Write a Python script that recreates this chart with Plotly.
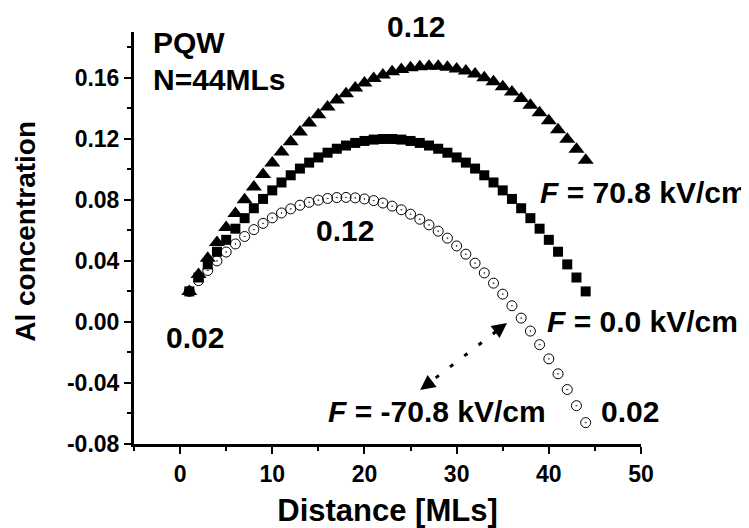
import plotly.graph_objects as go

distance = list(range(1, 45))

al_f0 = [0.0200, 0.0291, 0.0377, 0.0460, 0.0538, 0.0611, 0.0680, 0.0745, 0.0806, 0.0862,
         0.0914, 0.0961, 0.1005, 0.1044, 0.1078, 0.1109, 0.1135, 0.1156, 0.1173, 0.1186,
         0.1195, 0.1199, 0.1199, 0.1195, 0.1186, 0.1173, 0.1156, 0.1135, 0.1109, 0.1078,
         0.1044, 0.1005, 0.0961, 0.0914, 0.0862, 0.0806, 0.0745, 0.0680, 0.0611, 0.0538,
         0.0460, 0.0377, 0.0291, 0.0200]

al_fpos = [0.0200, 0.0311, 0.0417, 0.0520, 0.0618, 0.0711, 0.0800, 0.0885, 0.0966, 0.1042,
           0.1114, 0.1181, 0.1245, 0.1304, 0.1358, 0.1409, 0.1455, 0.1496, 0.1533, 0.1566,
           0.1595, 0.1619, 0.1639, 0.1655, 0.1666, 0.1673, 0.1676, 0.1675, 0.1669, 0.1658,
           0.1644, 0.1625, 0.1601, 0.1574, 0.1542, 0.1506, 0.1465, 0.1420, 0.1371, 0.1318,
           0.1260, 0.1197, 0.1131, 0.1060]

al_fneg = [0.0200, 0.0271, 0.0337, 0.0400, 0.0458, 0.0511, 0.0560, 0.0605, 0.0646, 0.0682,
           0.0714, 0.0741, 0.0765, 0.0784, 0.0798, 0.0809, 0.0815, 0.0816, 0.0813, 0.0806,
           0.0795, 0.0779, 0.0759, 0.0735, 0.0706, 0.0673, 0.0636, 0.0595, 0.0549, 0.0498,
           0.0444, 0.0385, 0.0321, 0.0254, 0.0182, 0.0106, 0.0025, -0.0060, -0.0149, -0.0242,
           -0.0340, -0.0443, -0.0549, -0.0660]

x_ticks = [0, 10, 20, 30, 40, 50]
y_ticks = [-0.08, -0.04, 0.00, 0.04, 0.08, 0.12, 0.16]
y_tick_labels = ["-0.08", "-0.04", "0.00", "0.04", "0.08", "0.12", "0.16"]

FONT = "Liberation Sans, Arial, sans-serif"

fig = go.Figure()
fig.add_trace(go.Scatter(x=distance, y=al_f0, mode="markers",
                         marker=dict(symbol="square", size=10, color="black"),
                         name="F = 0.0 kV/cm"))
fig.add_trace(go.Scatter(x=distance, y=al_fneg, mode="markers",
                         marker=dict(symbol="circle-open-dot", size=10, color="black",
                                     line=dict(width=1, color="black")),
                         name="F = -70.8 kV/cm"))
fig.add_trace(go.Scatter(x=distance, y=al_fpos, mode="markers",
                         marker=dict(symbol="triangle-up", size=14, color="black"),
                         name="F = 70.8 kV/cm"))

ann_font = dict(family=FONT, size=30, color="black", weight="bold")
label_font = dict(family=FONT, size=30, color="black", weight="bold")

anns = [
    dict(x=-3.16, y=0.1828, text="PQW", xanchor="left", font=ann_font),
    dict(x=-3.16, y=0.1590, text="N=44MLs", xanchor="left", font=ann_font),
    dict(x=17.9, y=0.0602, text="0.12", xanchor="center", font=ann_font),
    dict(x=1.62, y=-0.0099, text="0.02", xanchor="center", font=ann_font),
    dict(x=48.8, y=-0.0590, text="0.02", xanchor="center", font=ann_font),
    dict(x=38.8, y=0.0851, text="<i>F</i> = 70.8 kV/cm", xanchor="left", font=label_font),
    dict(x=39.6, y=0.0000, text="<i>F</i> = 0.0 kV/cm", xanchor="left", font=label_font),
    dict(x=39.9, y=-0.0590, text="<i>F</i> = -70.8 kV/cm", xanchor="right", font=label_font),
]
for a in anns:
    fig.add_annotation(xref="x", yref="y", showarrow=False, yanchor="middle", **a)
fig.add_annotation(xref="paper", yref="paper", x=0.556, y=1.0125, text="0.12",
                   showarrow=False, xanchor="center", yanchor="middle", font=ann_font)
# y-axis title placed as rotated text
fig.add_annotation(xref="paper", yref="paper", x=-0.213, y=0.515, text="Al concentration",
                   textangle=-90, showarrow=False, xanchor="center", yanchor="middle",
                   font=dict(family=FONT, size=28, color="black", weight="bold"))

# dashed double arrow
p1 = (35.47, -0.0007)
p2 = (26.03, -0.0446)
fig.add_shape(type="line", xref="x", yref="y", x0=p1[0] - 1.2, y0=p1[1] - 0.0056,
              x1=p2[0] + 1.2, y1=p2[1] + 0.0056,
              line=dict(color="black", width=3, dash="4px,14px"))
fig.add_annotation(xref="x", yref="y", x=p1[0], y=p1[1], ax=-12, ay=9, text="",
                   showarrow=True, arrowhead=2, arrowsize=1.2, arrowwidth=2.5, arrowcolor="black")
fig.add_annotation(xref="x", yref="y", x=p2[0], y=p2[1], ax=12, ay=-9, text="",
                   showarrow=True, arrowhead=2, arrowsize=1.2, arrowwidth=2.5, arrowcolor="black")

axis_common = dict(showline=True, linecolor="black", linewidth=3, ticks="outside",
                   tickwidth=2, tickcolor="black", ticklen=7, showgrid=False, zeroline=False,
                   tickfont=dict(family=FONT, size=23, color="black", weight="bold"),
                   mirror=False, automargin=False)

fig.update_xaxes(range=[-5, 50], tickvals=x_ticks, ticktext=[str(v) for v in x_ticks],
                 minor=dict(dtick=5, tick0=0, ticks="outside", ticklen=4, tickwidth=2, tickcolor="black"),
                 title=dict(text="Distance [MLs]", font=dict(family=FONT, size=31, color="black", weight="bold")),
                 **axis_common)
fig.update_yaxes(range=[-0.08, 0.19], tickvals=y_ticks, ticktext=y_tick_labels,
                 minor=dict(dtick=0.02, tick0=0, ticks="outside", ticklen=4, tickwidth=2, tickcolor="black"),
                 **axis_common)

# page body has an 8px default margin; size figure so the plot area lands as in the reference
fig.update_layout(width=741, height=520, margin=dict(l=126, r=108, t=24, b=84),
                  plot_bgcolor="white", paper_bgcolor="white", showlegend=False)

fig.write_html("out.html")
